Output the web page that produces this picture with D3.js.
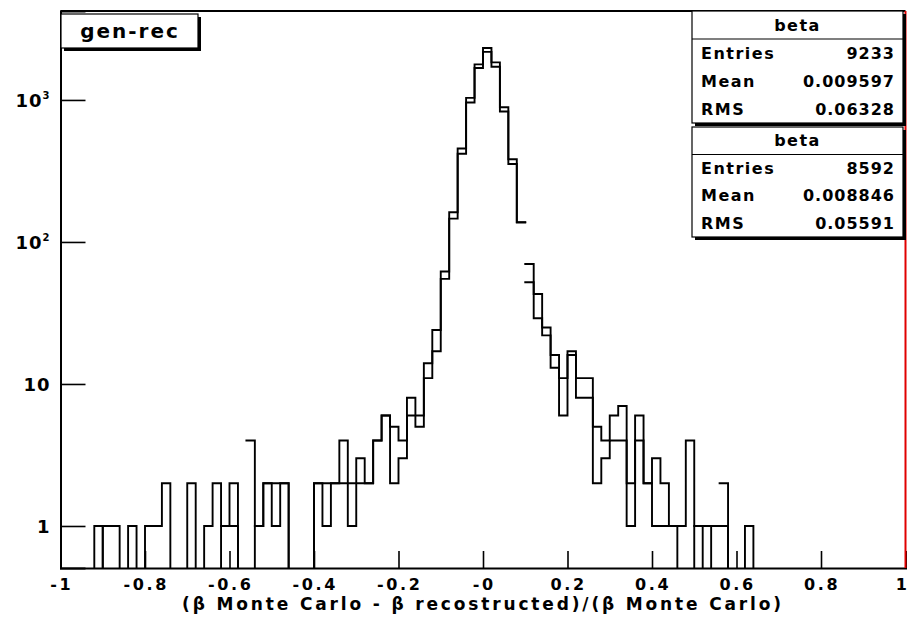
<!DOCTYPE html>
<html>
<head>
<meta charset="utf-8">
<script src="https://cdn.jsdelivr.net/npm/d3@7"></script>
<style>
  body { margin: 0; background: #fff; }
  svg text { font-family: "DejaVu Sans", sans-serif; font-weight: bold; fill: #000; }
</style>
</head>
<body>
<svg class="MainSvg"></svg>
<script>
    // 100 bins, width 0.02, on [-1, 1]
    var binLo = -1, binHi = 1, nBins = 100;

    var countsA = [
        0, 0, 0, 0, 1, 0, 0, 0, 1, 0,
        1, 1, 2, 0, 0, 2, 0, 1, 2, 1,
        2, 0, 4, 1, 2, 2, 2, 0, 0, 0,
        2, 2, 2, 4, 1, 3, 2, 4, 6, 5,
        4, 8, 5, 14, 24, 62, 162, 455, 1035, 1780,
        2320, 1840, 888, 382, 138, 70, 43, 25, 16, 11,
        17, 11, 11, 5, 4, 6, 7, 2, 6, 2,
        3, 2, 1, 1, 4, 1, 1, 1, 2, 0,
        0, 1, 0, 0, 0, 0, 0, 0, 0, 0,
        0, 0, 0, 0, 0, 0, 0, 0, 0, 0
    ];
    var countsB = [
        0, 0, 0, 0, 0, 1, 1, 0, 0, 0,
        0, 0, 0, 0, 0, 0, 0, 0, 0, 1,
        1, 0, 0, 1, 2, 1, 2, 0, 0, 0,
        2, 1, 2, 2, 2, 2, 2, 4, 6, 2,
        3, 6, 6, 11, 17, 55, 146, 418, 960, 1680,
        2180, 1715, 830, 354, 137, 52, 29, 22, 13, 6,
        16, 8, 8, 2, 3, 4, 4, 1, 4, 2,
        1, 1, 1, 0, 0, 1, 0, 1, 1, 0,
        0, 0, 0, 0, 0, 0, 0, 0, 0, 0,
        0, 0, 0, 0, 0, 0, 0, 0, 0, 0
    ];
    // bin edges where the drawn outline has no vertical step
    var brokenEdges = [-0.56, 0.1, 0.56];

    var xMajor = [-1, -0.8, -0.6, -0.4, -0.2, 0, 0.2, 0.4, 0.6, 0.8, 1];
    var xLabels = ["-1", "-0.8", "-0.6", "-0.4", "-0.2", "-0", "0.2", "0.4", "0.6", "0.8", "1"];
    var yMajor = [1, 10, 100, 1000];
    var yLabels = [["1", ""], ["10", ""], ["10", "2"], ["10", "3"]];
    var yMinor = [0.6, 0.7, 0.8, 2, 3, 4, 5, 6, 7, 8, 9, 20, 30, 40, 50, 60, 70, 80, 90,
        200, 300, 400, 500, 600, 700, 800, 900, 2000, 3000, 4000];

    var statsTitle = "beta";
    var statsA = [["Entries", "9233"], ["Mean", "0.009597"], ["RMS", "0.06328"]];
    var statsB = [["Entries", "8592"], ["Mean", "0.008846"], ["RMS", "0.05591"]];
    var padTitle = "gen-rec";
    var xTitle = "(\u03b2 Monte Carlo - \u03b2 recostructed)/(\u03b2 Monte Carlo)";

    var W = 908, H = 626;
    var margin = { top: 11, right: 2.5, bottom: 58, left: 60.5 };

    var svg = d3.select(".MainSvg").attr("width", W).attr("height", H);

    var x = d3.scaleLinear().domain([binLo, binHi]).range([margin.left, W - margin.right]);
    var y = d3.scaleLog().domain([0.506, 4230]).range([H - margin.bottom, margin.top]);
    var yBottom = y.range()[0];

    function yy(v) { return v > 0 ? y(v) : yBottom; }

    function histPath(counts) {
        var w = (binHi - binLo) / nBins, p = "";
        for (var i = 0; i <= nBins; i++) {
            var e = binLo + i * w;
            var prev = i > 0 ? counts[i - 1] : 0, cur = i < nBins ? counts[i] : 0;
            var broken = brokenEdges.some(function (b) { return Math.abs(b - e) < 1e-6; });
            if (prev !== cur && !broken) p += "M" + x(e) + "," + yy(prev) + "V" + yy(cur);
            if (cur > 0) p += "M" + x(e) + "," + y(cur) + "H" + x(e + w);
        }
        return p;
    }

    // histograms
    [countsA, countsB].forEach(function (c) {
        svg.append("path")
            .attr("d", histPath(c))
            .attr("fill", "none")
            .attr("stroke", "#000")
            .attr("stroke-width", 1.9)
            .attr("stroke-linecap", "square");
    });

    // frame top
    svg.append("line")
        .attr("x1", x(binLo)).attr("x2", x(binHi))
        .attr("y1", margin.top).attr("y2", margin.top)
        .attr("stroke", "#000").attr("stroke-width", 2);

    // x axis (ticks point up into the frame)
    var xMinor = d3.range(-0.95, 1, 0.05).filter(function (v) {
        return xMajor.every(function (m) { return Math.abs(m - v) > 1e-6; });
    });
    var gx = svg.append("g").attr("transform", "translate(0," + yBottom + ")");
    gx.call(d3.axisBottom(x).tickValues(xMinor).tickSize(-9).tickFormat(""));
    gx.call(d3.axisBottom(x).tickValues(xMajor).tickSize(-17).tickFormat(""));
    gx.selectAll(".domain").attr("stroke-width", 2);
    gx.selectAll(".tick line").attr("stroke-width", 1.6);
    svg.selectAll(".xlab").data(xMajor).enter().append("text")
        .attr("class", "xlab")
        .attr("x", function (d, i) { return i === xMajor.length - 1 ? W - 1 : x(d) + 1.2; })
        .attr("y", 590)
        .attr("text-anchor", function (d, i) { return i === xMajor.length - 1 ? "end" : "middle"; })
        .style("font-size", "16px")
        .style("letter-spacing", function (d, i) { return i === xMajor.length - 1 ? "0px" : "2.6px"; })
        .text(function (d, i) { return xLabels[i]; });

    // y axis (ticks point right)
    var gy = svg.append("g").attr("transform", "translate(" + margin.left + ",0)");
    gy.call(d3.axisLeft(y).tickValues(yMinor).tickSize(-13).tickFormat(""));
    gy.call(d3.axisLeft(y).tickValues(yMajor).tickSize(-25).tickFormat(""));
    gy.selectAll(".domain").attr("stroke-width", 2);
    gy.selectAll(".tick line").attr("stroke-width", 1.6);
    var ylab = gy.selectAll(".ylab").data(yMajor).enter().append("text")
        .attr("x", -10)
        .attr("y", function (d) { return y(d) + 7; })
        .attr("text-anchor", "end")
        .style("font-size", "18px")
        .style("letter-spacing", "1px");
    ylab.append("tspan").text(function (d, i) { return yLabels[i][0]; });
    ylab.append("tspan")
        .attr("dy", -8)
        .style("font-size", "10px")
        .text(function (d, i) { return yLabels[i][1]; });

    // right frame edge
    svg.append("line")
        .attr("x1", x(binHi)).attr("x2", x(binHi))
        .attr("y1", margin.top).attr("y2", yBottom)
        .attr("stroke", "#e00000").attr("stroke-width", 2);

    // axis title
    svg.append("text")
        .attr("x", x(0))
        .attr("y", 610)
        .attr("text-anchor", "middle")
        .style("font-size", "17px")
        .style("letter-spacing", "2.85px")
        .text(xTitle);

    // pave with shadow
    function pave(x1, y1, x2, y2) {
        var g = svg.append("g");
        g.append("rect").attr("x", x1 + 3).attr("y", y1 + 3)
            .attr("width", x2 - x1).attr("height", y2 - y1).attr("fill", "#000");
        g.append("rect").attr("x", x1).attr("y", y1)
            .attr("width", x2 - x1).attr("height", y2 - y1)
            .attr("fill", "#fff").attr("stroke", "#000").attr("stroke-width", 1.2);
        return g;
    }

    var tp = pave(61, 14, 198, 48);
    tp.append("text")
        .attr("x", 130).attr("y", 31).attr("dy", "0.35em")
        .attr("text-anchor", "middle")
        .style("font-size", "20px")
        .style("letter-spacing", "2px")
        .text(padTitle);

    function statBox(y1, y2, rows) {
        var x1 = 692, x2 = 903;
        var g = pave(x1, y1, x2, y2);
        var rh = (y2 - y1) / (rows.length + 1);
        g.append("text")
            .attr("x", (x1 + x2) / 2).attr("y", y1 + rh / 2).attr("dy", "0.35em")
            .attr("text-anchor", "middle")
            .style("font-size", "16px").style("letter-spacing", "1.5px")
            .text(statsTitle);
        g.append("line")
            .attr("x1", x1).attr("x2", x2)
            .attr("y1", y1 + rh).attr("y2", y1 + rh)
            .attr("stroke", "#000").attr("stroke-width", 1.2);
        rows.forEach(function (r, i) {
            var cy = y1 + rh * (i + 1.5);
            g.append("text")
                .attr("x", x1 + 9).attr("y", cy).attr("dy", "0.35em")
                .style("font-size", "16px").style("letter-spacing", "1.5px")
                .text(r[0]);
            g.append("text")
                .attr("x", x2 - 8).attr("y", cy).attr("dy", "0.35em")
                .attr("text-anchor", "end")
                .style("font-size", "16px").style("letter-spacing", "1px")
                .text(r[1]);
        });
    }
    statBox(11, 123, statsA);
    statBox(127, 237, statsB);
</script>
</body>
</html>
